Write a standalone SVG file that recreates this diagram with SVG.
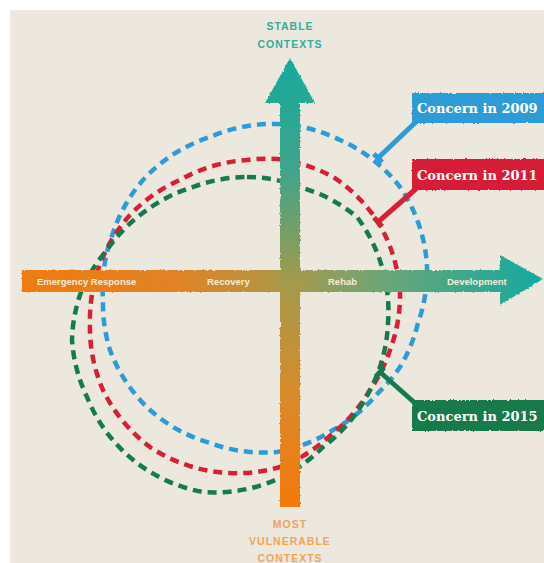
<svg xmlns="http://www.w3.org/2000/svg" width="544" height="563" viewBox="0 0 544 563">
  <defs>
    <linearGradient id="gV" x1="0" y1="58" x2="0" y2="507" gradientUnits="userSpaceOnUse">
      <stop offset="0" stop-color="#17a99d"/>
      <stop offset="0.25" stop-color="#3fa58a"/>
      <stop offset="0.5" stop-color="#a39a4c"/>
      <stop offset="0.75" stop-color="#d98a2a"/>
      <stop offset="1" stop-color="#f4780c"/>
    </linearGradient>
    <linearGradient id="gH" x1="22" y1="0" x2="543" y2="0" gradientUnits="userSpaceOnUse">
      <stop offset="0" stop-color="#ef7a12"/>
      <stop offset="0.3" stop-color="#e08326"/>
      <stop offset="0.5" stop-color="#ad9847"/>
      <stop offset="0.7" stop-color="#6aa679"/>
      <stop offset="1" stop-color="#14a9a0"/>
    </linearGradient>
    <filter id="rough" x="-5%" y="-5%" width="110%" height="110%">
      <feTurbulence type="fractalNoise" baseFrequency="0.6" numOctaves="1" seed="3" result="n"/>
      <feDisplacementMap in="SourceGraphic" in2="n" scale="3" xChannelSelector="R" yChannelSelector="G"/>
    </filter>
    <style>
      .ring { fill: none; stroke-width: 4.5; stroke-dasharray: 9 6; stroke-linejoin: round; }
      .box-text { font-family: "DejaVu Serif", "Liberation Serif", serif; font-weight: bold; font-size: 13px; fill: #ffffff; }
      .axis-text { font-family: "Liberation Sans", Arial, sans-serif; font-weight: bold; font-size: 9.5px; fill: #f6ecd8; }
      .ctx { font-family: "Liberation Sans", Arial, sans-serif; font-weight: bold; font-size: 10.5px; letter-spacing: 1px; text-anchor: middle; }
      .lead { fill: none; stroke-width: 5; stroke-linecap: butt; }
      .shape { filter: url(#rough); }
    </style>
  </defs>

  <rect x="0" y="0" width="544" height="563" fill="#ffffff"/>
  <rect x="10" y="10" width="534" height="553" fill="#ece8dd"/>

  <g id="rings">
    <path id="ring-2009" class="ring" stroke="#2e9bd6" d="M277 124 A155 155 0 0 1 340 140 A155 155 0 0 1 400 187 A155 155 0 0 1 427 267 A155 155 0 0 1 418 323 A155 155 0 0 1 400 367 A155 155 0 0 1 378 393 A155 155 0 0 1 333 430 A155 155 0 0 1 277 452 A155 155 0 0 1 210 443 A155 155 0 0 1 150 410 A155 155 0 0 1 110 350 A155 155 0 0 1 103 300 A155 155 0 0 1 113 233 A155 155 0 0 1 143 180 A155 155 0 0 1 210 137 A155 155 0 0 1 277 124 Z"/>
    <path id="ring-2011" class="ring" stroke="#d71f35" d="M277 159 A155 155 0 0 1 333 177 A155 155 0 0 1 378 222 A155 155 0 0 1 400 293 A155 155 0 0 1 390 350 A155 155 0 0 1 370 390 A155 155 0 0 1 333 433 A155 155 0 0 1 280 467 A155 155 0 0 1 217 472 A155 155 0 0 1 150 447 A155 155 0 0 1 103 390 A155 155 0 0 1 90 323 A155 155 0 0 1 103 257 A155 155 0 0 1 130 215 A155 155 0 0 1 180 180 A155 155 0 0 1 247 160 A155 155 0 0 1 277 159 Z"/>
    <path id="ring-2015" class="ring" stroke="#157a4c" d="M247 177 A155 155 0 0 1 303 188 A155 155 0 0 1 357 217 A155 155 0 0 1 382 267 A155 155 0 0 1 388 323 A155 155 0 0 1 370 390 A155 155 0 0 1 323 447 A155 155 0 0 1 280 478 A155 155 0 0 1 203 492 A155 155 0 0 1 137 463 A155 155 0 0 1 87 397 A155 155 0 0 1 72 340 A155 155 0 0 1 80 295 A155 155 0 0 1 107 250 A155 155 0 0 1 147 210 A155 155 0 0 1 193 187 A155 155 0 0 1 247 177 Z"/>
  </g>

  <g id="axis-horizontal">
    <path class="shape" d="M22 270 L500 270 L500 255 L543 279 L500 305 L500 292 L22 292 Z" fill="url(#gH)"/>
    <text class="axis-text" x="37" y="285">Emergency Response</text>
    <text class="axis-text" x="207" y="285">Recovery</text>
    <text class="axis-text" x="328" y="285">Rehab</text>
    <text class="axis-text" x="447" y="285">Development</text>
  </g>

  <g id="axis-vertical">
    <path class="shape" d="M290 58 L315 103 L300 103 L300 507 L280 507 L280 103 L265 103 Z" fill="url(#gV)"/>
  </g>

  <g id="label-stable">
    <text class="ctx" fill="#35ab9e" x="290" y="30">STABLE</text>
    <text class="ctx" fill="#35ab9e" x="290" y="48">CONTEXTS</text>
  </g>

  <g id="label-vulnerable">
    <text class="ctx" fill="#f0a35a" x="290" y="528">MOST</text>
    <text class="ctx" fill="#f0a35a" x="290" y="545">VULNERABLE</text>
    <text class="ctx" fill="#f0a35a" x="290" y="562">CONTEXTS</text>
  </g>

  <g id="connectors">
    <line class="lead" stroke="#2e9bd6" x1="418" y1="120" x2="378" y2="158"/>
    <line class="lead" stroke="#2e9bd6" x1="373.8" y1="153.7" x2="382.2" y2="162.3"/>
    <line class="lead" stroke="#d71f35" x1="418" y1="187" x2="378" y2="222"/>
    <line class="lead" stroke="#d71f35" x1="374" y1="217.5" x2="382" y2="226.5"/>
    <line class="lead" stroke="#157a4c" x1="416" y1="404" x2="380" y2="372"/>
    <line class="lead" stroke="#157a4c" x1="376" y1="376.5" x2="384" y2="367.5"/>
  </g>

  <g id="box-2009">
    <rect class="shape" x="412" y="93" width="134" height="30" fill="#2e9bd6"/>
    <text class="box-text" x="417" y="113">Concern in 2009</text>
  </g>
  <g id="box-2011">
    <rect class="shape" x="412" y="159" width="134" height="31" fill="#d71f35"/>
    <text class="box-text" x="417" y="180">Concern in 2011</text>
  </g>
  <g id="box-2015">
    <rect class="shape" x="412" y="400" width="134" height="31" fill="#157a4c"/>
    <text class="box-text" x="417" y="421">Concern in 2015</text>
  </g>
</svg>
